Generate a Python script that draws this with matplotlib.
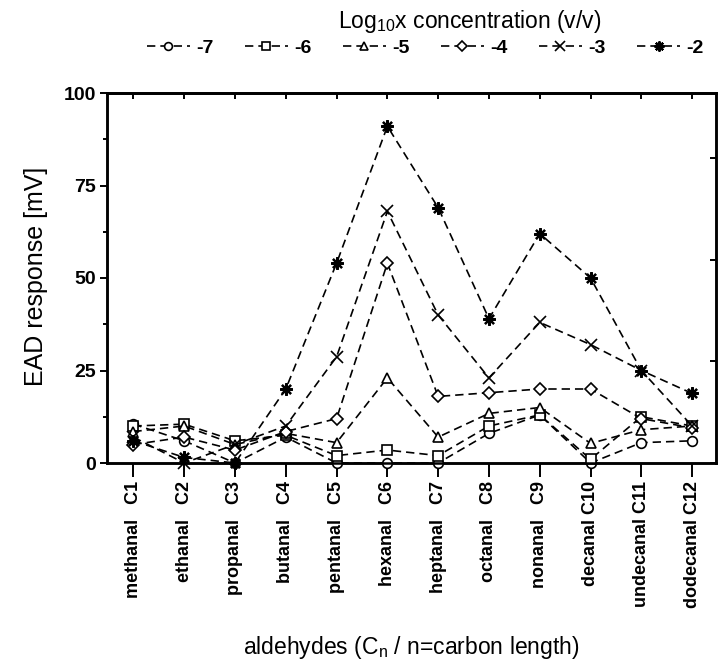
import matplotlib
matplotlib.use("Agg")
import matplotlib.pyplot as plt

plt.rcParams["font.family"] = ["Liberation Sans", "DejaVu Sans"]
plt.rcParams["mathtext.fontset"] = "custom"
plt.rcParams["mathtext.rm"] = "Liberation Sans"
plt.rcParams["mathtext.it"] = "Liberation Sans"
plt.rcParams["mathtext.bf"] = "Liberation Sans:bold"

# Aldehyde series, C1..C12
names = ["methanal", "ethanal", "propanal", "butanal", "pentanal", "hexanal",
         "heptanal", "octanal", "nonanal", "decanal", "undecanal", "dodecanal"]
carbons = ["C1", "C2", "C3", "C4", "C5", "C6", "C7", "C8", "C9", "C10", "C11", "C12"]

# EAD response [mV] per log10 concentration
conc_labels = ["-7", "-6", "-5", "-4", "-3", "-2"]
resp_m7 = [10.5, 6.0, 0.0, 7.0, 0.0, 0.0, 0.0, 8.0, 13.0, 0.0, 5.5, 6.0]
resp_m6 = [10.0, 10.5, 6.0, 7.5, 2.0, 3.5, 2.0, 10.0, 13.0, 1.0, 12.5, 10.0]
resp_m5 = [8.5, 10.0, 5.0, 8.0, 5.5, 23.0, 7.0, 13.4, 15.0, 5.3, 9.0, 10.0]
resp_m4 = [5.0, 7.0, 3.5, 8.5, 12.0, 54.0, 18.0, 19.0, 20.0, 20.0, 12.0, 9.5]
resp_m3 = [7.0, 0.0, 5.0, 10.0, 28.7, 68.0, 40.0, 23.0, 38.0, 32.0, 25.0, 10.0]
resp_m2 = [6.0, 1.5, 0.0, 20.0, 54.0, 91.0, 69.0, 39.0, 62.0, 50.0, 25.0, 18.8]

series = [resp_m7, resp_m6, resp_m5, resp_m4, resp_m3, resp_m2]
markers = ["o", "s", "^", "D", "x", (8, 2, 0)]
msizes = [7, 6.5, 7, 6, 9, 9]

W, H = 721, 666
fig = plt.figure(figsize=(W / 100, H / 100), dpi=100)
left, right, top, bottom = 107, 716, 93, 463
ax = fig.add_axes([left / W, 1 - bottom / H, (right - left) / W, (bottom - top) / H])

x = list(range(len(names)))
handles = []
for vals, mk, ms, lab in zip(series, markers, msizes, conc_labels):
    face = "white" if mk not in ("x", (8, 2, 0)) else "black"
    ln, = ax.plot(x, vals, color="black", linestyle=(0, (5, 3)), linewidth=1.2,
                  marker=mk, markersize=ms, markerfacecolor=face,
                  markeredgecolor="black",
                  markeredgewidth=1.2 if mk != (8, 2, 0) else 1.6,
                  label=lab, clip_on=False, zorder=3)
    handles.append(ln)

ax.set_xlim(-0.52, 11.47)
ax.set_ylim(0, 100)

for sp in ax.spines.values():
    sp.set_linewidth(1.8)

ax.set_yticks([0, 25, 50, 75, 100])
ax.set_yticks([12.5, 37.5, 62.5, 87.5], minor=True)
ax.tick_params(axis="y", which="major", direction="out", length=5, width=1.4,
               labelsize=14, pad=3)
ax.tick_params(axis="y", which="minor", direction="out", length=3, width=1.4)
for t in ax.get_yticklabels():
    t.set_fontweight("bold")

# Two-part category labels: carbon number near the axis, name beneath
xlabels = []
for nm, c in zip(names, carbons):
    pad = "   " if len(c) == 2 else " "
    xlabels.append(f"{nm}{pad}{c}")
ax.set_xticks(x)
ax.set_xticklabels(xlabels, rotation=90, fontsize=13, fontweight="bold",
                   va="top", ha="center")
ax.tick_params(axis="x", direction="out", length=10, width=1.4, pad=3)

# inward ticks on the top spine
top_ax = ax.secondary_xaxis("top")
top_ax.set_xticks(x)
top_ax.set_xticklabels([])
top_ax.tick_params(direction="in", length=4, width=1.4)
top_ax.spines["top"].set_linewidth(1.8)

# inward ticks on the right spine
right_ax = ax.twinx()
right_ax.set_ylim(0, 100)
right_ax.set_yticks([0, 27.5, 55, 82.5])
right_ax.set_yticklabels([])
right_ax.tick_params(direction="in", length=4, width=1.4)
for sp in right_ax.spines.values():
    sp.set_linewidth(1.8)

fig.text(0.05, 0.585, "EAD response [mV]", rotation=90, fontsize=18,
         ha="center", va="center")
fig.text(0.571, 0.028, r"aldehydes (C$_\mathrm{n}$ / n=carbon length)", fontsize=16.5,
         ha="center", va="center")
fig.text(0.652, 0.967, r"Log$_\mathrm{10}$x concentration (v/v)", fontsize=16.5,
         ha="center", va="center")

fig.legend(handles, conc_labels, ncol=6, loc="center", bbox_to_anchor=(0.59, 0.928),
           frameon=False, handlelength=2.2, columnspacing=1.6, handletextpad=0.35,
           markerscale=0.8, prop={"weight": "bold", "size": 14})

fig.savefig("out.png", dpi=100)
